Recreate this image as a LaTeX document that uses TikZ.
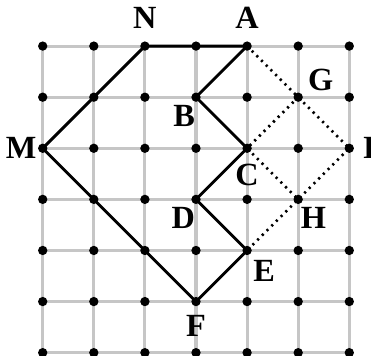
\documentclass[tikz,border=0pt]{standalone}
\usepackage{fontspec}
\setmainfont{Liberation Serif}
\usetikzlibrary{positioning}

\begin{document}
\begin{tikzpicture}[
    gridline/.style={line width=1.7pt, gray!45},
    path/.style={line width=1.6pt, line join=miter},
    aux/.style={line width=1.5pt, dash pattern=on 1.2pt off 2.5pt},
    lab/.style={font=\fontsize{18}{20}\selectfont\bfseries}
  ]
  \useasboundingbox (-0.836,-0.065) rectangle (6.425,6.902);
  % Grid
  \foreach \i in {0,...,6} {
    \draw[gridline] (\i,-0.3) -- (\i,6);
    \draw[gridline] (0,\i) -- (6,\i);
  }
  % Named points
  \coordinate (N) at (2,6);
  \coordinate (A) at (4,6);
  \coordinate (B) at (3,5);
  \coordinate (C) at (4,4);
  \coordinate (D) at (3,3);
  \coordinate (E) at (4,2);
  \coordinate (F) at (3,1);
  \coordinate (M) at (0,4);
  \coordinate (G) at (5,5);
  \coordinate (I) at (6,4);
  \coordinate (H) at (5,3);
  % Dotted square
  \draw[aux] (A) -- (I) -- (E);
  \draw[aux] (G) -- (C) -- (H);
  % Closed path
  \draw[path] (N) -- (A) -- (B) -- (C) -- (D) -- (E) -- (F) -- (M) -- cycle;
  % Labels
  \node[lab, above=6pt] at (N) {N};
  \node[lab, above=6pt] at (A) {A};
  \node[lab, above right=0pt and 2pt] at (G) {G};
  \node[lab, right=4pt] at (I) {I};
  \node[lab, left=0pt] at (M) {M};
  \node[lab, below left=1pt and -3pt] at (B) {B};
  \node[lab, below=5pt] at (C) {C};
  \node[lab, below left=1pt and -3pt] at (D) {D};
  \node[lab, below right=1pt and -2pt] at (H) {H};
  \node[lab, below right=2pt and 0pt] at (E) {E};
  \node[lab, below=4pt] at (F) {F};
  % Lattice points
  \foreach \i in {0,...,6}
    \foreach \j in {0,...,6}
      \fill (\i,\j) circle (2.6pt);
\end{tikzpicture}
\end{document}
